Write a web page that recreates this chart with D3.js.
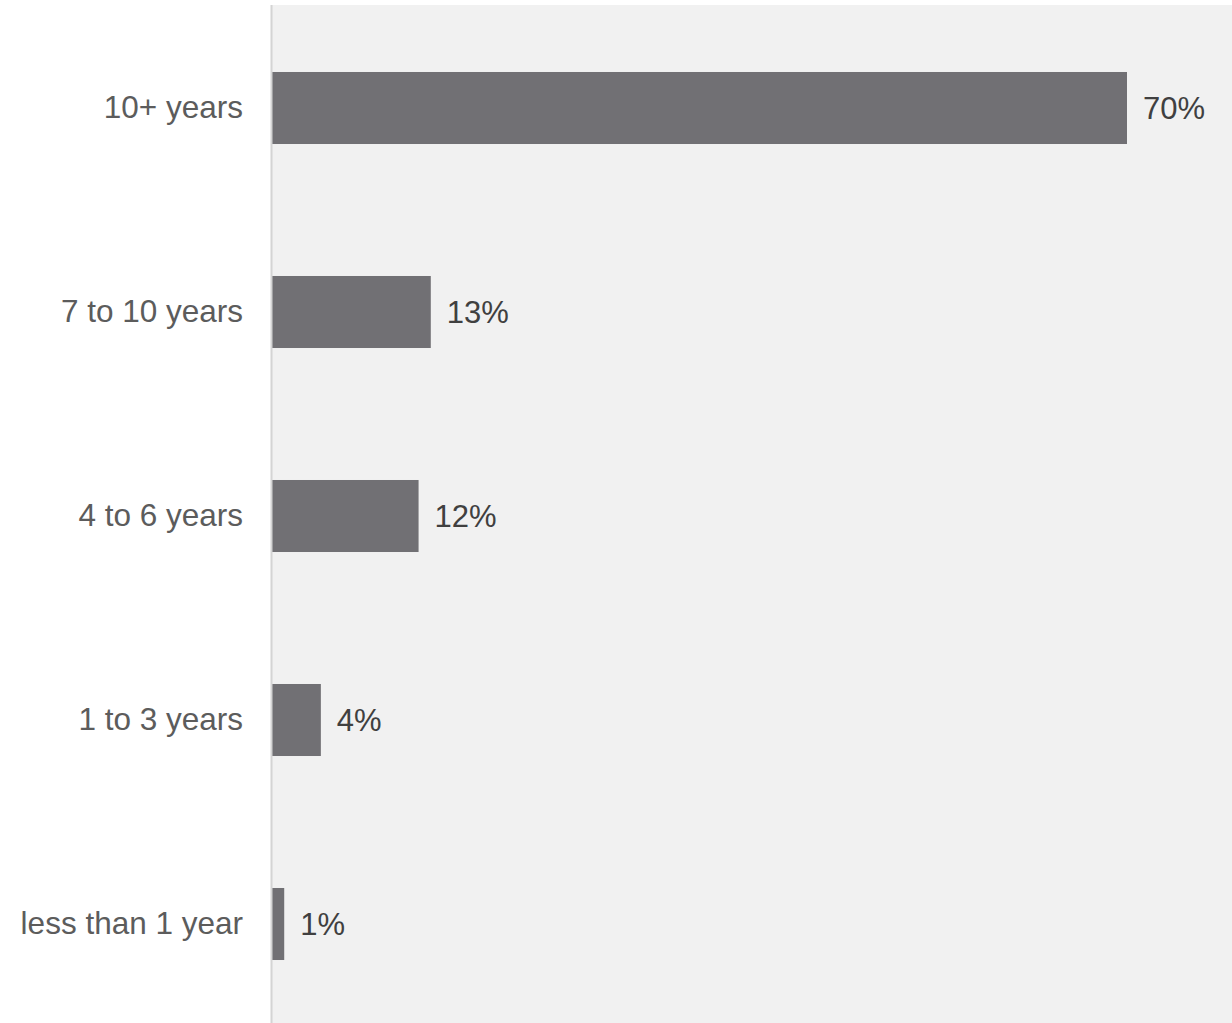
<!DOCTYPE html>
<html>
<head>
<meta charset="utf-8">
<script src="https://cdn.jsdelivr.net/npm/d3@7"></script>
<style>
  html, body { margin: 0; padding: 0; background: #ffffff; }
  svg { display: block; }
</style>
</head>
<body>
<svg id="chart" width="1232" height="1023"></svg>
<script>
// Years of experience, share of respondents (%)
const categories = ["10+ years", "7 to 10 years", "4 to 6 years", "1 to 3 years", "less than 1 year"];
const values = [70, 13, 12, 4, 1];
const valueLabels = ["70%", "13%", "12%", "4%", "1%"];

const width = 1232, height = 1023;
const plot = { left: 272, top: 6, right: 1232, bottom: 1026 };

const svg = d3.select("#chart");

// plot background
svg.append("rect")
  .attr("x", plot.left).attr("y", 5)
  .attr("width", plot.right - plot.left)
  .attr("height", height - 5)
  .attr("fill", "#f1f1f1");

const y = d3.scaleBand()
  .domain(categories)
  .range([plot.top, plot.bottom])
  .paddingInner(0.647)
  .paddingOuter(0.3235);

const x = d3.scaleLinear()
  .domain([0, 70])
  .range([plot.left, 1127]);

// category axis
const yAxis = d3.axisLeft(y).tickSize(0).tickPadding(29);
const gy = svg.append("g")
  .attr("transform", `translate(${plot.left},0)`)
  .call(yAxis);
gy.select(".domain").remove();
gy.selectAll("text")
  .attr("font-family", "'Liberation Sans', Arial, sans-serif")
  .attr("font-size", "31.5px")
  .attr("fill", "#5c5c5c");

// bars
svg.append("g").selectAll("rect")
  .data(values)
  .join("rect")
  .attr("x", x(0))
  .attr("y", (d, i) => y(categories[i]))
  .attr("width", d => x(d) - x(0))
  .attr("height", y.bandwidth())
  .attr("fill", "#717074");

// value labels
svg.append("g").selectAll("text")
  .data(values)
  .join("text")
  .attr("x", d => x(d) + 16)
  .attr("y", (d, i) => y(categories[i]) + y.bandwidth() / 2)
  .attr("dy", "0.35em")
  .attr("font-family", "'Liberation Sans', Arial, sans-serif")
  .attr("font-size", "31px")
  .attr("fill", "#404040")
  .text((d, i) => valueLabels[i]);

// axis line
svg.append("line")
  .attr("x1", plot.left - 0.5).attr("x2", plot.left - 0.5)
  .attr("y1", 5).attr("y2", height)
  .attr("stroke", "#d4d4d4")
  .attr("stroke-width", 2);
</script>
</body>
</html>
